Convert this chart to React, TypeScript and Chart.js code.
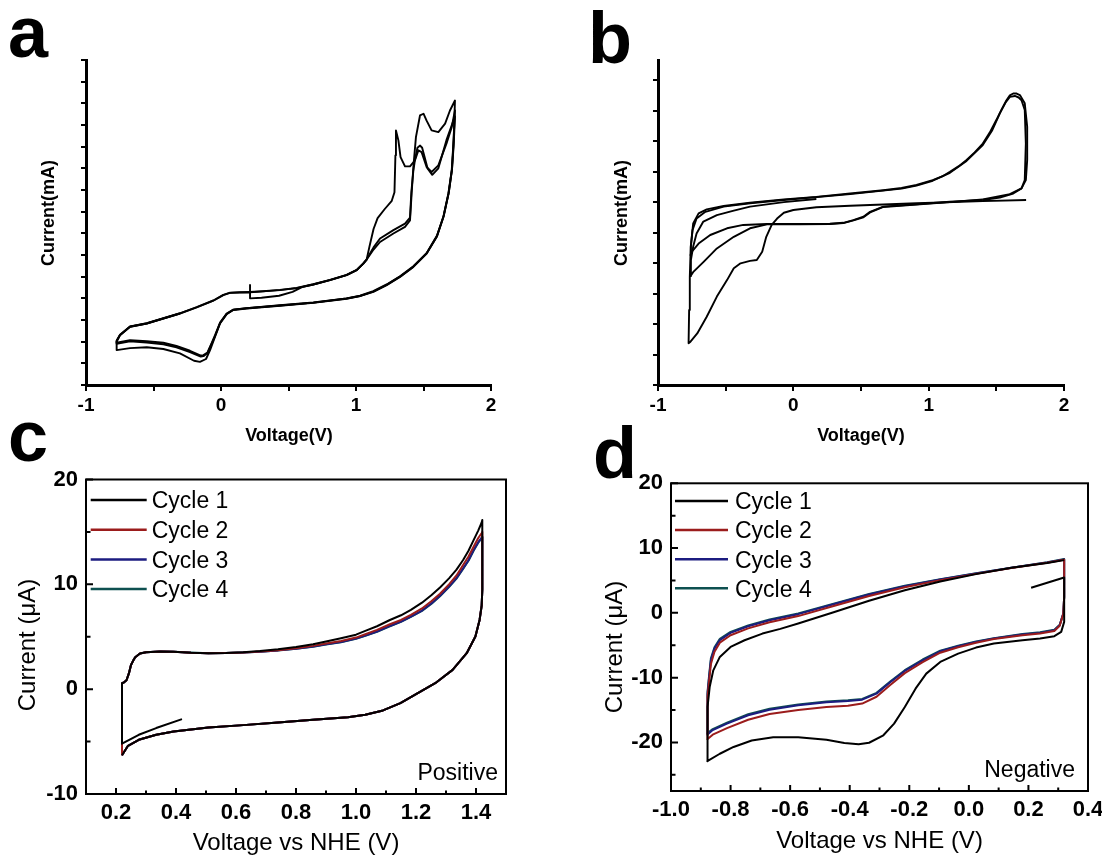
import React, { useEffect, useRef } from 'react';
import { Chart, registerables } from 'chart.js';

Chart.register(...registerables);

const FONT = "'Liberation Sans', Arial, Helvetica, sans-serif";
type Pt = [number, number];

// ---------------- Panel a (CV, arbitrary current units) ----------------
const aCycle1: Pt[] = [
  [0.215, 4.62], [0.215, 4.0], [0.3, 4.03], [0.43, 4.12], [0.53, 4.3], [0.6, 4.52], [0.684, 4.64], [0.807, 4.84],
  [0.93, 5.07], [1.005, 5.3], [1.054, 5.6], [1.079, 5.79], [1.1, 6.4], [1.13, 7.2], [1.16, 7.7], [1.21, 8.1],
  [1.265, 8.5], [1.285, 8.9], [1.292, 10.6], [1.296, 11.75], [1.314, 11.29], [1.33, 10.52], [1.363, 10.09],
  [1.4, 10.09], [1.437, 10.37], [1.462, 10.83], [1.486, 10.75], [1.523, 10.06], [1.56, 9.83], [1.61, 10.14],
  [1.67, 11.14], [1.709, 11.9], [1.733, 12.67],
  [1.721, 11.1], [1.709, 9.9], [1.684, 8.83], [1.647, 7.76], [1.598, 6.84], [1.523, 6.07], [1.425, 5.45],
  [1.326, 4.99], [1.227, 4.61], [1.128, 4.3], [1.03, 4.1], [0.93, 3.98], [0.684, 3.79], [0.437, 3.66],
  [0.19, 3.53], [0.091, 3.46], [0.042, 3.27], [-0.007, 2.84], [-0.044, 2.23], [-0.081, 1.61], [-0.111, 1.2],
  [-0.156, 1.07], [-0.2, 1.12], [-0.304, 1.46], [-0.427, 1.66], [-0.55, 1.74], [-0.674, 1.7], [-0.773, 1.61],
  [-0.773, 2.0], [-0.748, 2.3], [-0.674, 2.69], [-0.55, 2.84], [-0.427, 3.07], [-0.304, 3.3], [-0.18, 3.58],
  [-0.057, 3.89], [0.017, 4.15], [0.067, 4.25], [0.14, 4.27], [0.215, 4.28],
];
const aCycle2: Pt[] = [
  [0.215, 4.28], [0.31, 4.32], [0.437, 4.38], [0.56, 4.47], [0.684, 4.64], [0.807, 4.84], [0.93, 5.07],
  [1.005, 5.3], [1.054, 5.6], [1.079, 5.79], [1.13, 6.25], [1.178, 6.6], [1.277, 6.99], [1.363, 7.3],
  [1.4, 7.6], [1.412, 8.83], [1.425, 10.06], [1.444, 11.44], [1.474, 12.44], [1.5, 12.52], [1.523, 12.2],
  [1.56, 11.75], [1.61, 11.67], [1.66, 12.06], [1.696, 12.67], [1.733, 13.13],
  [1.725, 11.5], [1.712, 10.0], [1.688, 8.9], [1.65, 7.8], [1.6, 6.9], [1.525, 6.1], [1.425, 5.48],
  [1.326, 5.02], [1.227, 4.64], [1.128, 4.33], [1.03, 4.12], [0.93, 4.0], [0.684, 3.81], [0.437, 3.68],
  [0.19, 3.55], [0.091, 3.48], [0.042, 3.3], [-0.007, 2.88], [-0.044, 2.3], [-0.07, 1.92], [-0.1, 1.5],
  [-0.13, 1.38], [-0.15, 1.36], [-0.23, 1.58], [-0.33, 1.8], [-0.427, 1.95], [-0.55, 2.02], [-0.674, 2.07],
  [-0.773, 1.95], [-0.773, 2.05], [-0.748, 2.32], [-0.674, 2.7], [-0.55, 2.85], [-0.427, 3.08], [-0.304, 3.31],
  [-0.18, 3.59], [-0.057, 3.9], [0.017, 4.16], [0.067, 4.26], [0.14, 4.28], [0.215, 4.29],
];
const aCycle3: Pt[] = [
  [0.215, 4.29], [0.31, 4.33], [0.437, 4.39], [0.56, 4.48], [0.684, 4.65], [0.807, 4.85], [0.93, 5.08],
  [1.005, 5.31], [1.054, 5.61], [1.079, 5.8], [1.13, 6.35], [1.178, 6.76], [1.277, 7.15], [1.363, 7.45],
  [1.4, 7.72], [1.41, 8.9], [1.425, 9.9], [1.437, 10.4], [1.455, 10.95], [1.475, 11.05], [1.49, 10.95],
  [1.53, 10.0], [1.565, 9.7], [1.61, 10.0], [1.67, 11.3], [1.733, 12.4],
  [1.723, 11.0], [1.71, 9.9], [1.686, 8.85], [1.648, 7.78], [1.6, 6.86], [1.524, 6.08], [1.425, 5.46],
  [1.326, 5.0], [1.227, 4.62], [1.128, 4.31], [1.03, 4.11], [0.93, 3.99], [0.684, 3.8], [0.437, 3.67],
  [0.19, 3.54], [0.091, 3.47], [0.042, 3.28], [-0.007, 2.86], [-0.044, 2.26], [-0.07, 1.9], [-0.1, 1.48],
  [-0.13, 1.33], [-0.15, 1.31], [-0.23, 1.52], [-0.33, 1.74], [-0.427, 1.88], [-0.55, 1.96], [-0.674, 2.02],
  [-0.773, 1.9], [-0.773, 2.02], [-0.748, 2.31], [-0.674, 2.69], [-0.55, 2.84], [-0.427, 3.07], [-0.304, 3.3],
];

// ---------------- Panel b ----------------
const bCycle1: Pt[] = [
  [1.72, 6.07], [1.4, 6.03], [0.91, 5.96], [0.42, 5.88], [0.17, 5.83], [0.0, 5.74], [-0.07, 5.65], [-0.12, 5.46],
  [-0.16, 5.25], [-0.2, 4.86], [-0.23, 4.37], [-0.27, 4.1], [-0.32, 4.07], [-0.39, 3.99], [-0.44, 3.83],
  [-0.49, 3.44], [-0.565, 2.9], [-0.64, 2.24], [-0.71, 1.69], [-0.76, 1.42], [-0.774, 1.37],
  [-0.77, 2.46], [-0.765, 3.55], [-0.758, 4.54], [-0.74, 5.3], [-0.7, 5.63], [-0.64, 5.76], [-0.515, 5.87],
  [-0.32, 5.98], [-0.07, 6.09], [0.17, 6.17], [0.42, 6.28], [0.665, 6.39], [0.8, 6.46], [0.91, 6.56], [1.03, 6.72],
  [1.1, 6.84], [1.157, 6.99], [1.22, 7.17], [1.28, 7.38], [1.34, 7.63], [1.4, 7.92], [1.45, 8.27], [1.5, 8.69],
  [1.54, 9.05], [1.575, 9.34], [1.6, 9.5], [1.625, 9.56], [1.65, 9.56], [1.674, 9.51],
  [1.71, 9.24], [1.728, 8.47], [1.728, 7.38], [1.718, 6.72], [1.686, 6.45], [1.625, 6.28], [1.526, 6.15], [1.4, 6.07],
];
const bCycle2: Pt[] = [
  [1.4, 6.07], [1.157, 6.01], [0.91, 5.93], [0.665, 5.85], [0.567, 5.68], [0.518, 5.52], [0.444, 5.41],
  [0.37, 5.32], [0.27, 5.29], [0.05, 5.28], [-0.195, 5.28], [-0.37, 5.25], [-0.49, 5.14], [-0.614, 4.92],
  [-0.7, 4.64], [-0.75, 4.37], [-0.76, 4.26],
  [-0.757, 4.54], [-0.745, 5.08], [-0.715, 5.46], [-0.65, 5.68], [-0.515, 5.85], [-0.32, 5.96], [-0.07, 6.07],
  [0.42, 6.26], [0.8, 6.44], [0.91, 6.54], [1.03, 6.7], [1.157, 6.96], [1.28, 7.35], [1.4, 7.87], [1.47, 8.36],
  [1.526, 8.91], [1.57, 9.28], [1.6, 9.45], [1.637, 9.48], [1.665, 9.43],
  [1.686, 9.34], [1.71, 9.02], [1.718, 7.92], [1.71, 6.72], [1.686, 6.45], [1.6, 6.26], [1.4, 6.09],
];
const bCycle3: Pt[] = [
  [1.4, 6.09], [1.157, 6.0], [0.91, 5.92], [0.665, 5.84], [0.567, 5.66], [0.518, 5.5], [0.444, 5.4],
  [0.37, 5.31], [0.27, 5.28], [0.05, 5.27], [-0.195, 5.27], [-0.32, 5.14], [-0.44, 4.86], [-0.565, 4.48],
  [-0.663, 4.04], [-0.737, 3.72], [-0.76, 3.57],
  [-0.757, 4.1], [-0.74, 4.54], [-0.715, 4.97], [-0.665, 5.36], [-0.565, 5.57], [-0.44, 5.72], [-0.32, 5.85],
  [-0.07, 6.0], [0.17, 6.1],
];

// ---------------- Panel c (Positive) ----------------
const cycleLabels = ['Cycle 1', 'Cycle 2', 'Cycle 3', 'Cycle 4'];
const cycleColors = ['#000000', '#9b1c1c', '#1c1c80', '#0e5050'];

const cStart: Pt[] = [[0.42, -2.86], [0.334, -3.71], [0.276, -4.35]];
const cAnodicV = [0.22, 0.22, 0.226, 0.235, 0.243, 0.25, 0.257, 0.264, 0.28, 0.3, 0.347, 0.392, 0.45, 0.508,
  0.566, 0.624, 0.68, 0.74, 0.8, 0.857, 0.9, 0.95, 1.0, 1.031, 1.07, 1.113, 1.15, 1.183, 1.22, 1.252, 1.28,
  1.31, 1.335, 1.357, 1.375, 1.392, 1.407, 1.419, 1.421];
const cCycle1AnodicI = [-5.2, 0.57, 0.63, 0.85, 1.5, 2.3, 2.7, 3.05, 3.4, 3.52, 3.59, 3.57, 3.48, 3.43, 3.45,
  3.52, 3.64, 3.81, 4.02, 4.29, 4.55, 4.86, 5.2, 5.56, 6.0, 6.6, 7.05, 7.56, 8.25, 8.98, 9.7, 10.57, 11.4,
  12.32, 13.2, 14.22, 15.1, 15.9, 16.13];
const cCycle2AnodicI = [-6.3, 0.57, 0.63, 0.85, 1.5, 2.3, 2.7, 3.05, 3.4, 3.52, 3.59, 3.57, 3.48, 3.43, 3.45,
  3.5, 3.6, 3.72, 3.9, 4.13, 4.35, 4.6, 4.92, 5.24, 5.65, 6.19, 6.6, 7.08, 7.7, 8.41, 9.1, 10.0, 10.85,
  11.84, 12.65, 13.59, 14.4, 14.9, 15.0];
const cCycle3AnodicI = [-6.3, 0.57, 0.63, 0.85, 1.5, 2.3, 2.7, 3.05, 3.4, 3.52, 3.59, 3.57, 3.48, 3.43, 3.45,
  3.5, 3.58, 3.7, 3.86, 4.06, 4.28, 4.5, 4.82, 5.11, 5.5, 6.03, 6.45, 6.92, 7.5, 8.19, 8.9, 9.78, 10.6,
  11.52, 12.3, 13.27, 14.0, 14.45, 14.54];
const cCycle4AnodicI = [-6.3, 0.57, 0.63, 0.85, 1.5, 2.3, 2.7, 3.05, 3.4, 3.52, 3.6, 3.58, 3.49, 3.43, 3.45,
  3.5, 3.58, 3.69, 3.85, 4.04, 4.26, 4.48, 4.8, 5.09, 5.48, 6.0, 6.42, 6.9, 7.47, 8.15, 8.86, 9.74, 10.55,
  11.48, 12.25, 13.2, 13.95, 14.4, 14.5];
const cCathodicV = [1.421, 1.419, 1.412, 1.398, 1.369, 1.322, 1.264, 1.206, 1.148, 1.09, 1.031, 0.973, 0.857,
  0.74, 0.624, 0.508, 0.392, 0.334, 0.276, 0.24, 0.22];
const cCathodicI = [9.5, 8.0, 6.6, 5.02, 3.43, 1.84, 0.57, -0.38, -1.33, -2.03, -2.44, -2.67, -2.92, -3.17,
  -3.43, -3.65, -4.03, -4.35, -4.83, -5.4, -6.3];

// ---------------- Panel d (Negative) ----------------
const dCycle1Start: Pt[] = [[0.209, 3.87], [0.32, 5.46]];
const dCycle1CathodicV = [0.32, 0.32, 0.31, 0.287, 0.239, 0.18, 0.084, 0.024, -0.036, -0.096, -0.143, -0.179,
  -0.215, -0.251, -0.287, -0.335, -0.37, -0.418, -0.478, -0.573, -0.657, -0.729, -0.79, -0.836, -0.878];
const dCycle1CathodicI = [5.46, -1.39, -2.94, -3.6, -3.97, -4.23, -4.74, -5.36, -6.29, -7.58, -9.38, -11.7,
  -14.54, -17.1, -18.9, -20.05, -20.3, -20.1, -19.6, -19.2, -19.2, -19.7, -20.7, -21.75, -22.9];
const dCycle1AnodicV = [-0.878, -0.878, -0.876, -0.87, -0.858, -0.836, -0.8, -0.753, -0.693, -0.633, -0.573,
  -0.454, -0.335, -0.215, -0.096, 0.024, 0.143, 0.263, 0.32];
const dCycle1AnodicI = [-22.9, -19.7, -14.5, -11.4, -8.87, -6.8, -5.26, -4.23, -3.2, -2.47, -1.65, 0.1, 1.86,
  3.5, 4.85, 5.98, 6.96, 7.68, 8.14];

const dCathodicV = [0.32, 0.32, 0.32, 0.317, 0.305, 0.287, 0.239, 0.18, 0.084, 0.024, -0.036, -0.096, -0.155,
  -0.215, -0.263, -0.31, -0.358, -0.406, -0.478, -0.573, -0.669, -0.741, -0.812, -0.86, -0.878];
const dCycle2CathodicI = [8.2, 5.0, 2.4, -0.2, -2.0, -2.8, -3.2, -3.45, -4.05, -4.6, -5.3, -6.15, -7.6, -9.3,
  -11.1, -12.95, -14.0, -14.35, -14.55, -15.0, -15.6, -16.5, -17.8, -18.8, -19.5];
const dCycle3CathodicI = [8.25, 5.05, 2.47, -0.1, -1.9, -2.68, -3.09, -3.35, -3.97, -4.48, -5.15, -5.93, -7.32,
  -8.97, -10.67, -12.47, -13.4, -13.6, -13.8, -14.28, -14.95, -15.8, -17.1, -18.1, -18.8];
const dCycle4CathodicI = [8.3, 5.05, 2.47, -0.1, -1.85, -2.6, -3.0, -3.28, -3.9, -4.4, -5.08, -5.85, -7.2,
  -8.85, -10.55, -12.35, -13.28, -13.48, -13.68, -14.15, -14.8, -15.65, -16.95, -17.95, -18.6];
const dAnodicV = [-0.878, -0.878, -0.876, -0.872, -0.866, -0.854, -0.836, -0.8, -0.741, -0.669, -0.573, -0.454,
  -0.335, -0.215, -0.096, 0.024, 0.143, 0.263, 0.32];
const dCycle2AnodicI = [-19.5, -16.2, -13.0, -10.5, -7.9, -6.0, -4.6, -3.45, -2.4, -1.45, -0.5, 1.05, 2.6,
  3.95, 5.05, 6.02, 6.92, 7.72, 8.2];
const dCycle3AnodicI = [-18.8, -15.6, -12.5, -9.9, -7.3, -5.5, -4.2, -3.1, -2.06, -1.13, -0.2, 1.34, 2.84,
  4.12, 5.15, 6.08, 6.96, 7.78, 8.25];
const dCycle4AnodicI = [-18.6, -15.3, -12.2, -9.6, -7.0, -5.3, -4.0, -2.95, -1.95, -1.02, -0.1, 1.42, 2.9,
  4.17, 5.18, 6.1, 6.97, 7.8, 8.3];

// ---------------- helpers ----------------
const pts = (arr: Pt[]) => arr.map(([x, y]) => ({ x, y }));
const zip = (xs: number[], ys: number[]) => xs.map((x, i) => ({ x, y: ys[i] }));

function lineDs(label: string, data: { x: number; y: number }[], color: string, width = 2) {
  return {
    label,
    data,
    showLine: true,
    borderColor: color,
    backgroundColor: color,
    borderWidth: width,
    pointRadius: 0,
    pointHoverRadius: 0,
    fill: false,
    tension: 0,
    borderJoinStyle: 'round' as const,
  };
}

type TextItem = { text: string; x: number; y: number; size: number; bold?: boolean; align?: CanvasTextAlign; rotate?: number };

function makeTextPlugin(items: TextItem[]) {
  return {
    id: 'panelTexts',
    afterDraw(chart: any) {
      const ctx: CanvasRenderingContext2D = chart.ctx;
      items.forEach((it) => {
        ctx.save();
        ctx.font = `${it.bold ? 'bold ' : ''}${it.size}px ${FONT}`;
        ctx.fillStyle = '#000';
        ctx.textAlign = it.align ?? 'left';
        ctx.textBaseline = 'alphabetic';
        ctx.translate(it.x, it.y);
        if (it.rotate) ctx.rotate(it.rotate);
        ctx.fillText(it.text, 0, 0);
        ctx.restore();
      });
    },
  };
}

function makeBoxPlugin() {
  return {
    id: 'originBox',
    afterDatasetsDraw(chart: any) {
      const ctx: CanvasRenderingContext2D = chart.ctx;
      const { left, right, top, bottom } = chart.chartArea;
      const xs = chart.scales.x;
      const ys = chart.scales.y;
      ctx.save();
      ctx.strokeStyle = '#000';
      ctx.lineWidth = 2;
      ctx.beginPath();
      xs.ticks.forEach((t: any) => {
        const p = xs.getPixelForValue(t.value);
        const len = t.label ? 6 : 3.5;
        ctx.moveTo(p, bottom);
        ctx.lineTo(p, bottom - len);
      });
      ys.ticks.forEach((t: any) => {
        const p = ys.getPixelForValue(t.value);
        const len = t.label ? 7 : 4.5;
        ctx.moveTo(left, p);
        ctx.lineTo(left + len, p);
      });
      ctx.stroke();
      ctx.strokeRect(left, top, right - left, bottom - top);
      ctx.restore();
    },
  };
}

function makeLegendPlugin(cfg: { x1: number; x2: number; tx: number; dy0: number; step: number }) {
  return {
    id: 'cycleLegend',
    afterDraw(chart: any) {
      const ctx: CanvasRenderingContext2D = chart.ctx;
      const { left, top } = chart.chartArea;
      chart.data.datasets.forEach((ds: any, i: number) => {
        const y = top + cfg.dy0 + i * cfg.step;
        ctx.save();
        ctx.strokeStyle = ds.borderColor;
        ctx.lineWidth = 2.5;
        ctx.beginPath();
        ctx.moveTo(left + cfg.x1, y);
        ctx.lineTo(left + cfg.x2, y);
        ctx.stroke();
        ctx.font = `23px ${FONT}`;
        ctx.fillStyle = '#000';
        ctx.textAlign = 'left';
        ctx.textBaseline = 'alphabetic';
        ctx.fillText(ds.label, left + cfg.tx, y + 8.3);
        ctx.restore();
      });
    },
  };
}

function plainAxes(o: { xmin: number; xmax: number; ymax: number; xh: number; yw: number }) {
  return {
    x: {
      type: 'linear', position: 'bottom', min: o.xmin, max: o.xmax,
      afterFit: (s: any) => { s.height = o.xh; s.paddingLeft = 0; s.paddingRight = 0; },
      ticks: {
        stepSize: 0.5, autoSkip: false, maxRotation: 0, minRotation: 0, padding: 3.5, color: '#000',
        font: { family: FONT, size: 19, weight: 'bold', lineHeight: 1.2 },
        callback: (v: number) => (Math.abs(v - Math.round(v)) < 1e-6 ? String(Math.round(v)) : ''),
      },
      grid: { display: true, drawOnChartArea: false, drawTicks: true, tickLength: 6, color: '#000', lineWidth: 2 },
      border: { display: true, color: '#000', width: 3 },
    },
    y: {
      type: 'linear', position: 'left', min: 0, max: o.ymax,
      afterFit: (s: any) => { s.width = o.yw; s.paddingTop = 0; s.paddingBottom = 0; },
      ticks: { stepSize: 1, display: false, includeBounds: false, autoSkip: false },
      grid: { display: true, drawOnChartArea: false, drawTicks: true, tickLength: 5, color: '#000', lineWidth: 2 },
      border: { display: true, color: '#000', width: 3 },
    },
  };
}

function boxAxes(o: { xmin: number; xmax: number; ymin: number; ymax: number; xh: number; yw: number }) {
  const tickFont = { family: FONT, size: 22, weight: 'bold', lineHeight: 1.2 };
  return {
    x: {
      type: 'linear', position: 'bottom', min: o.xmin, max: o.xmax,
      afterFit: (s: any) => { s.height = o.xh; s.paddingLeft = 0; s.paddingRight = 0; },
      ticks: {
        stepSize: 0.1, autoSkip: false, maxRotation: 0, minRotation: 0, padding: 5.5, color: '#000', font: tickFont,
        callback: (v: number) => {
          const k = Math.round(v * 10);
          return k % 2 === 0 ? (k / 10).toFixed(1) : '';
        },
      },
      grid: { display: false, drawTicks: false, tickLength: 0 },
      border: { display: false },
    },
    y: {
      type: 'linear', position: 'left', min: o.ymin, max: o.ymax,
      afterFit: (s: any) => { s.width = o.yw; s.paddingTop = 0; s.paddingBottom = 0; },
      ticks: {
        stepSize: 5, includeBounds: false, autoSkip: false, padding: 8, color: '#000', font: tickFont,
        callback: (v: number) => {
          const k = Math.round(v);
          return k % 10 === 0 ? String(k) : '';
        },
      },
      grid: { display: false, drawTicks: false, tickLength: 0 },
      border: { display: false },
    },
  };
}

function baseOptions(padding: any, scales: any) {
  return {
    responsive: false,
    animation: false,
    devicePixelRatio: 1,
    events: [],
    layout: { padding },
    plugins: { legend: { display: false }, tooltip: { enabled: false }, title: { display: false } },
    scales,
  };
}

const HALF_PI = Math.PI / 2;

// canvas geometry (page pixels): top panels 0..470, bottom panels 400..857 (canvases are transparent and overlap)
const TOP_H = 470;
const BOT_Y = 400;
const BOT_H = 457;

function configA() {
  return {
    type: 'scatter',
    data: {
      datasets: [
        lineDs('Scan 1', pts(aCycle1), '#000', 1.9),
        lineDs('Scan 2', pts(aCycle2), '#000', 1.9),
        lineDs('Scan 3', pts(aCycle3), '#000', 1.9),
      ],
    },
    options: baseOptions({ left: 0, top: 60, right: 60, bottom: 0 }, plainAxes({ xmin: -1, xmax: 2, ymax: 15, xh: TOP_H - 385, yw: 86 })),
    plugins: [
      makeTextPlugin([
        { text: 'a', x: 8, y: 57, size: 72, bold: true },
        { text: 'Voltage(V)', x: 289, y: 441, size: 18, bold: true, align: 'center' },
        { text: 'Current(mA)', x: 54, y: 213, size: 18, bold: true, align: 'center', rotate: -HALF_PI },
      ]),
    ],
  };
}

function configB() {
  return {
    type: 'scatter',
    data: {
      datasets: [
        lineDs('Scan 1', pts(bCycle1), '#000', 1.9),
        lineDs('Scan 2', pts(bCycle2), '#000', 1.9),
        lineDs('Scan 3', pts(bCycle3), '#000', 1.9),
      ],
    },
    options: baseOptions({ left: 0, top: 60, right: 38, bottom: 0 }, plainAxes({ xmin: -1, xmax: 2, ymax: 10.66, xh: TOP_H - 385, yw: 107 })),
    plugins: [
      makeTextPlugin([
        { text: 'b', x: 37, y: 63, size: 72, bold: true },
        { text: 'Voltage(V)', x: 310, y: 441, size: 18, bold: true, align: 'center' },
        { text: 'Current(mA)', x: 76, y: 213, size: 18, bold: true, align: 'center', rotate: -HALF_PI },
      ]),
    ],
  };
}

function configC() {
  const anodic = [cCycle1AnodicI, cCycle2AnodicI, cCycle3AnodicI, cCycle4AnodicI];
  const datasets = cycleLabels.map((lab, i) => {
    const data = [
      ...(i === 0 ? pts(cStart) : []),
      ...zip(cAnodicV, anodic[i]),
      ...zip(cCathodicV, cCathodicI),
    ];
    return lineDs(lab, data, cycleColors[i], 2);
  });
  return {
    type: 'scatter',
    data: { datasets },
    options: baseOptions(
      { left: 0, top: 479.5 - BOT_Y, right: 45, bottom: 0 },
      boxAxes({ xmin: 0.1, xmax: 1.5, ymin: -10, ymax: 20, xh: BOT_Y + BOT_H - 794, yw: 86 }),
    ),
    plugins: [
      makeBoxPlugin(),
      makeLegendPlugin({ x1: 4.7, x2: 60.7, tx: 65.7, dy0: 20.5, step: 29.7 }),
      makeTextPlugin([
        { text: 'c', x: 8, y: 461 - BOT_Y, size: 72, bold: true },
        { text: 'Voltage vs NHE (V)', x: 296, y: 850 - BOT_Y, size: 24, align: 'center' },
        { text: 'Current (\u03BCA)', x: 35, y: 645 - BOT_Y, size: 24, align: 'center', rotate: -HALF_PI },
        { text: 'Positive', x: 498, y: 780 - BOT_Y, size: 23, align: 'right' },
      ]),
    ],
  };
}

function configD() {
  const cath = [dCycle2CathodicI, dCycle3CathodicI, dCycle4CathodicI];
  const anod = [dCycle2AnodicI, dCycle3AnodicI, dCycle4AnodicI];
  const datasets = [
    lineDs(cycleLabels[0], [
      ...pts(dCycle1Start),
      ...zip(dCycle1CathodicV, dCycle1CathodicI),
      ...zip(dCycle1AnodicV, dCycle1AnodicI),
    ], cycleColors[0], 2),
    ...[1, 2, 3].map((i) => lineDs(cycleLabels[i], [
      ...zip(dCathodicV, cath[i - 1]),
      ...zip(dAnodicV, anod[i - 1]),
    ], cycleColors[i], 2)),
  ];
  return {
    type: 'scatter',
    data: { datasets },
    options: baseOptions(
      { left: 0, top: 483.3 - BOT_Y, right: 14, bottom: 0 },
      boxAxes({ xmin: -1.0, xmax: 0.4, ymin: -27.5, ymax: 20, xh: BOT_Y + BOT_H - 791, yw: 120 }),
    ),
    plugins: [
      makeBoxPlugin(),
      makeLegendPlugin({ x1: 4, x2: 57, tx: 64, dy0: 17.7, step: 29.1 }),
      makeTextPlugin([
        { text: 'd', x: 42, y: 478 - BOT_Y, size: 72, bold: true },
        { text: 'Voltage vs NHE (V)', x: 328.5, y: 848 - BOT_Y, size: 24, align: 'center' },
        { text: 'Current (\u03BCA)', x: 71, y: 647 - BOT_Y, size: 24, align: 'center', rotate: -HALF_PI },
        { text: 'Negative', x: 524, y: 777 - BOT_Y, size: 23, align: 'right' },
      ]),
    ],
  };
}

function Panel(props: { make: () => any; left: number; top: number; width: number; height: number }) {
  const ref = useRef<HTMLCanvasElement>(null);
  useEffect(() => {
    const chart = new Chart(ref.current as HTMLCanvasElement, props.make());
    return () => chart.destroy();
  }, []);
  return (
    <canvas
      ref={ref}
      width={props.width}
      height={props.height}
      style={{ position: 'absolute', left: props.left, top: props.top, width: props.width, height: props.height, display: 'block' }}
    />
  );
}

export default function App() {
  return (
    <div style={{ position: 'absolute', left: 0, top: 0, width: 1102, height: 857, background: '#fff', overflow: 'hidden' }}>
      <Panel make={configA} left={0} top={0} width={551} height={TOP_H} />
      <Panel make={configB} left={551} top={0} width={551} height={TOP_H} />
      <Panel make={configC} left={0} top={BOT_Y} width={551} height={BOT_H} />
      <Panel make={configD} left={551} top={BOT_Y} width={551} height={BOT_H} />
    </div>
  );
}
